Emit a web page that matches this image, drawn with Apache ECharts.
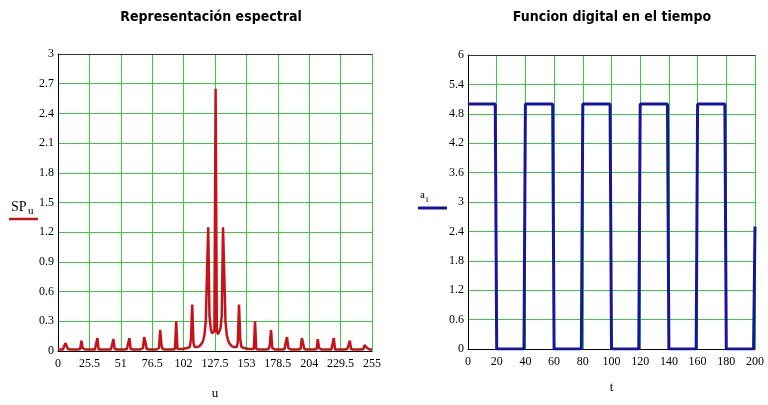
<!DOCTYPE html>
<html>
<head>
<meta charset="utf-8">
<script src="https://cdn.jsdelivr.net/npm/echarts@6/dist/echarts.min.js"></script>
<style>
  html, body { margin: 0; padding: 0; background: #ffffff; }
  #chart { width: 768px; height: 405px; }
</style>
</head>
<body>
<div id="chart"></div>
<script>
// Spectrum magnitude SP_u for u = 0 .. 255 (centred, DC at u = 128)
const spectrum = [
  0.015, 0.015, 0.015, 0.015, 0.015, 0.03, 0.08, 0.06, 0.02, 0.015,
  0.015, 0.015, 0.015, 0.015, 0.015, 0.015, 0.015, 0.015, 0.02, 0.105,
  0.03, 0.02, 0.015, 0.015, 0.015, 0.015, 0.015, 0.015, 0.015, 0.015,
  0.015, 0.015, 0.13, 0.015, 0.015, 0.015, 0.015, 0.015, 0.015, 0.015,
  0.015, 0.015, 0.015, 0.015, 0.03, 0.12, 0.02, 0.015, 0.015, 0.015,
  0.015, 0.015, 0.015, 0.015, 0.015, 0.015, 0.02, 0.08, 0.13, 0.02,
  0.015, 0.015, 0.015, 0.015, 0.015, 0.015, 0.015, 0.015, 0.015, 0.03,
  0.14, 0.09, 0.02, 0.015, 0.015, 0.015, 0.015, 0.015, 0.015, 0.015,
  0.015, 0.015, 0.03, 0.21, 0.06, 0.02, 0.015, 0.015, 0.015, 0.015,
  0.015, 0.015, 0.015, 0.015, 0.015, 0.02, 0.3, 0.02, 0.02, 0.02,
  0.02, 0.02, 0.02, 0.025, 0.025, 0.03, 0.03, 0.04, 0.12, 0.47,
  0.08, 0.04, 0.04, 0.04, 0.045, 0.05, 0.06, 0.08, 0.11, 0.17,
  0.3, 0.78, 1.25, 0.36, 0.23, 0.18, 0.17, 0.2,
  2.65,
  0.2, 0.17, 0.18, 0.23, 0.36, 1.25, 0.78, 0.3, 0.17, 0.11,
  0.08, 0.06, 0.05, 0.045, 0.04, 0.04, 0.04, 0.08, 0.47, 0.12,
  0.04, 0.03, 0.03, 0.025, 0.025, 0.02, 0.02, 0.02, 0.02, 0.02,
  0.02, 0.3, 0.02, 0.015, 0.015, 0.015, 0.015, 0.015, 0.015, 0.015,
  0.015, 0.015, 0.02, 0.06, 0.21, 0.03, 0.015, 0.015, 0.015, 0.015,
  0.015, 0.015, 0.015, 0.015, 0.015, 0.02, 0.09, 0.14, 0.03, 0.015,
  0.015, 0.015, 0.015, 0.015, 0.015, 0.015, 0.015, 0.015, 0.02, 0.13,
  0.08, 0.02, 0.015, 0.015, 0.015, 0.015, 0.015, 0.015, 0.015, 0.015,
  0.015, 0.02, 0.12, 0.03, 0.015, 0.015, 0.015, 0.015, 0.015, 0.015,
  0.015, 0.015, 0.015, 0.015, 0.015, 0.13, 0.015, 0.015, 0.015, 0.015,
  0.015, 0.015, 0.015, 0.015, 0.015, 0.015, 0.02, 0.03, 0.105, 0.02,
  0.015, 0.015, 0.015, 0.015, 0.015, 0.015, 0.015, 0.015, 0.015, 0.02,
  0.06, 0.08, 0.03, 0.015, 0.015, 0.015, 0.015
];

// Digital signal a_t: corner points of the pulse train
const tPoints = [0, 19, 20, 39, 40, 59, 60, 79, 80, 99, 100, 119, 120, 139, 140, 159, 160, 179, 180, 199, 200];
const aPoints = [5, 5, 0, 0, 5, 5, 0, 0, 5, 5, 0, 0, 5, 5, 0, 0, 5, 5, 0, 0, 2.5];

// Axis ranges and tick steps
const uRange = [0, 255], uStep = 25.5;
const spRange = [0, 3], spStep = 0.3;
const tRange = [0, 200], tStep = 20;
const aRange = [0, 6], aStep = 0.6;

const titles = ['Representación espectral', 'Funcion digital en el tiempo'];

const GREEN = '#3dc93d';
const RED = '#c8121a';
const BLUE = '#16169c';
const SERIF = '"Liberation Serif", "Times New Roman", serif';
const NARROW = '"Liberation Sans Narrow", "Arial Narrow", "DejaVu Sans Condensed", sans-serif';

const grids = [
  { left: 58, top: 54, width: 314, height: 305 },
  { left: 468, top: 55, width: 287, height: 294 }
];

function valueAxis(gridIndex, range, step, name, nameGap, labelMargin) {
  return {
    type: 'value', gridIndex, min: range[0], max: range[1], interval: step,
    name, nameLocation: 'middle', nameGap,
    nameTextStyle: { fontFamily: SERIF, fontSize: 13, color: '#000' },
    axisLine: { show: true, onZero: false, lineStyle: { color: '#000', width: 1 } },
    axisTick: { show: false },
    axisLabel: { fontFamily: SERIF, fontSize: 12, color: '#000', margin: labelMargin },
    splitLine: { show: true, lineStyle: { color: GREEN, width: 1 } }
  };
}

function frameAxis(gridIndex, range) {
  return {
    type: 'value', gridIndex, min: range[0], max: range[1], position: 'top',
    axisLine: { show: true, onZero: false, lineStyle: { color: '#333', width: 1 } },
    axisTick: { show: false }, axisLabel: { show: false }, splitLine: { show: false }
  };
}

const xAxes = [
  valueAxis(0, uRange, uStep, 'u', 36, 7),
  valueAxis(1, tRange, tStep, 't', 32, 7),
  frameAxis(0, uRange),
  frameAxis(1, tRange)
];

const yAxes = [
  valueAxis(0, spRange, spStep, '', 0, 4),
  valueAxis(1, aRange, aStep, '', 0, 4)
];

const chart = echarts.init(document.getElementById('chart'), null, { renderer: 'canvas' });

chart.setOption({
  backgroundColor: '#ffffff',
  animation: false,
  grid: grids,
  xAxis: xAxes,
  yAxis: yAxes,
  series: [
    {
      type: 'line', xAxisIndex: 0, yAxisIndex: 0,
      data: spectrum.map((v, i) => [i, v]),
      showSymbol: false, symbol: 'none',
      lineStyle: { color: RED, width: 2.5 }
    },
    {
      type: 'line', xAxisIndex: 1, yAxisIndex: 1,
      data: tPoints.map((t, i) => [t, aPoints[i]]),
      showSymbol: false, symbol: 'none',
      lineStyle: { color: BLUE, width: 3 }
    }
  ],
  graphic: [
    { type: 'text', x: 211, y: 10, style: { text: titles[0], textAlign: 'center', font: 'bold 14px ' + NARROW, fill: '#000' } },
    { type: 'text', x: 612, y: 10, style: { text: titles[1], textAlign: 'center', font: 'bold 14px ' + NARROW, fill: '#000' } },
    { type: 'text', x: 11, y: 200, style: { text: 'SP', font: '14px ' + SERIF, fill: '#000' } },
    { type: 'text', x: 28, y: 206, style: { text: 'u', font: '11px ' + SERIF, fill: '#000' } },
    { type: 'line', shape: { x1: 9, y1: 219, x2: 38, y2: 219 }, style: { stroke: RED, lineWidth: 2.5 } },
    { type: 'text', x: 420, y: 190, style: { text: 'a', font: '11px ' + SERIF, fill: '#000' } },
    { type: 'text', x: 426, y: 195, style: { text: 't', font: '9px ' + SERIF, fill: '#000' } },
    { type: 'line', shape: { x1: 418, y1: 208, x2: 447, y2: 208 }, style: { stroke: BLUE, lineWidth: 3 } }
  ]
});
</script>
</body>
</html>
